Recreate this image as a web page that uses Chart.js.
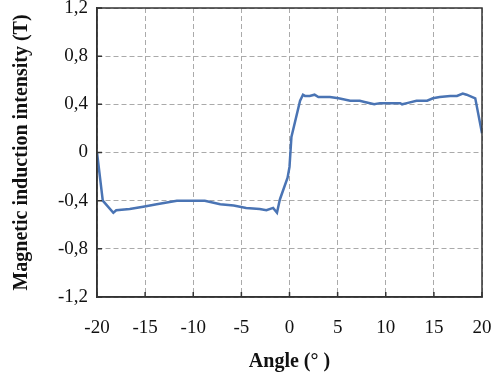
<!DOCTYPE html>
<html>
<head>
<meta charset="utf-8">
<script src="https://cdn.jsdelivr.net/npm/chart.js@4"></script>
<style>
  html, body { margin: 0; padding: 0; background: #fff; }
  #wrap { width: 494px; height: 379px; position: relative; }
</style>
</head>
<body>
<div id="wrap"><canvas id="chart"></canvas></div>
<script>
const angle = [-20, -19.4, -18.3, -18.0, -16.6, -15.2, -13.8, -11.7, -10, -8.8, -7.2, -5.8, -4.5, -3.1, -2.4, -1.7, -1.3, -1.0, -0.2, 0, 0.2, 1.1, 1.4, 1.6, 2.1, 2.6, 3.0, 4.2, 5.1, 6.3, 7.3, 7.8, 8.8, 9.4, 11.5, 11.7, 12.2, 13.2, 14.3, 14.9, 15.6, 16.7, 17.4, 18.0, 18.4, 19.3, 20];
const induction = [0, -0.40, -0.50, -0.48, -0.47, -0.45, -0.43, -0.40, -0.40, -0.40, -0.43, -0.44, -0.46, -0.47, -0.48, -0.46, -0.50, -0.39, -0.21, -0.12, 0.13, 0.43, 0.48, 0.47, 0.47, 0.48, 0.46, 0.46, 0.45, 0.43, 0.43, 0.42, 0.40, 0.41, 0.41, 0.40, 0.41, 0.43, 0.43, 0.45, 0.46, 0.47, 0.47, 0.49, 0.48, 0.45, 0.16];

const xTitle = 'Angle (° )';
const yTitle = 'Magnetic induction intensity (T)';

const points = angle.map((a, i) => ({ x: a, y: induction[i] }));

const serif = "'Liberation Serif', 'Times New Roman', serif";

// Rahmen + nach innen zeigende Tick-Striche
const framePlugin = {
  id: 'frame',
  afterDatasetsDraw(chart) {
    const { ctx, chartArea: a, scales } = chart;
    ctx.save();
    ctx.strokeStyle = '#333';
    ctx.lineWidth = 1.5;
    ctx.strokeRect(a.left, a.top, a.right - a.left, a.bottom - a.top);
    ctx.beginPath();
    scales.x.ticks.forEach(t => {
      const px = scales.x.getPixelForValue(t.value);
      ctx.moveTo(px, a.bottom);
      ctx.lineTo(px, a.bottom - 5);
    });
    scales.y.ticks.forEach(t => {
      const py = scales.y.getPixelForValue(t.value);
      ctx.moveTo(a.left, py);
      ctx.lineTo(a.left + 5, py);
    });
    ctx.stroke();
    ctx.restore();
  }
};

// keine automatische Randreserve für die äußeren Tick-Labels
const noEdgePadding = s => {
  s.paddingLeft = 0; s.paddingRight = 0; s.paddingTop = 0; s.paddingBottom = 0;
};

new Chart(document.getElementById('chart'), {
  type: 'scatter',
  data: {
    datasets: [{
      data: points,
      showLine: true,
      borderColor: '#4a74b4',
      borderWidth: 2.5,
      pointRadius: 0,
      tension: 0
    }]
  },
  options: {
    responsive: true,
    maintainAspectRatio: false,
    animation: false,
    layout: { padding: { top: 8, right: 12, left: 0, bottom: 0 } },
    plugins: { legend: { display: false }, tooltip: { enabled: false } },
    scales: {
      x: {
        type: 'linear',
        min: -20, max: 20,
        afterFit: s => { s.height = 82; noEdgePadding(s); },
        ticks: {
          stepSize: 5,
          padding: 20,
          color: '#111',
          font: { family: serif, size: 19 }
        },
        grid: { color: '#aaa', lineWidth: 1, drawTicks: false },
        border: { dash: [5, 3], color: '#333', width: 1.5 },
        title: {
          display: true, text: xTitle, color: '#111',
          font: { family: serif, size: 20, weight: 'bold' },
          padding: { top: 0, bottom: 5 }
        }
      },
      y: {
        min: -1.2, max: 1.2,
        afterFit: s => { s.width = 97; noEdgePadding(s); },
        ticks: {
          stepSize: 0.4,
          padding: 9,
          color: '#111',
          font: { family: serif, size: 19 },
          callback: v => Math.abs(v) < 1e-9 ? '0' : v.toFixed(1).replace('.', ',')
        },
        grid: { color: '#aaa', lineWidth: 1, drawTicks: false },
        border: { dash: [5, 3], color: '#333', width: 1.5 },
        title: {
          display: true, text: yTitle, color: '#111',
          font: { family: serif, size: 20, weight: 'bold' },
          padding: { top: 10, bottom: 0 }
        }
      }
    }
  },
  plugins: [framePlugin]
});
</script>
</body>
</html>
